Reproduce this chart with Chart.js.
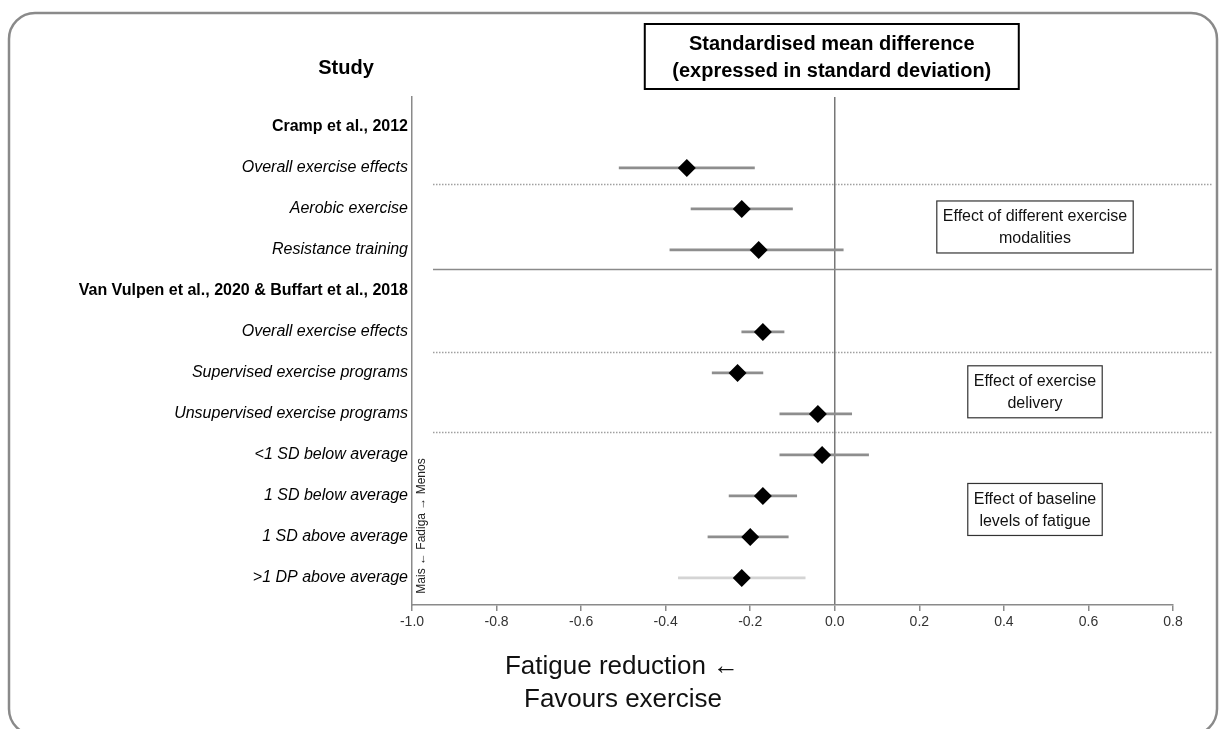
<!DOCTYPE html>
<html>
<head>
<meta charset="utf-8">
<script src="https://cdn.jsdelivr.net/npm/chart.js@4/dist/chart.umd.min.js"></script>
<style>
  body { margin: 0; background: #fff; }
  #wrap { width: 1220px; height: 729px; }
</style>
</head>
<body>
<div id="wrap"><canvas id="forest" width="1220" height="729"></canvas></div>
<script>
// rows top to bottom
let rowLabels = ["Cramp et al., 2012", "Overall exercise effects", "Aerobic exercise", "Resistance training",
	"Van Vulpen et al., 2020 & Buffart et al., 2018", "Overall exercise effects", "Supervised exercise programs",
	"Unsupervised exercise programs", "<1 SD below average", "1 SD below average", "1 SD above average",
	">1 DP above average"];
let headerRows = [true, false, false, false, true, false, false, false, false, false, false, false];
let smd = [null, -0.35, -0.22, -0.18, null, -0.17, -0.23, -0.04, -0.03, -0.17, -0.20, -0.22];
let ciLow = [null, -0.51, -0.34, -0.39, null, -0.22, -0.29, -0.13, -0.13, -0.25, -0.30, -0.37];
let ciHigh = [null, -0.19, -0.10, 0.02, null, -0.12, -0.17, 0.04, 0.08, -0.09, -0.11, -0.07];
let xTicks = [-1.0, -0.8, -0.6, -0.4, -0.2, 0.0, 0.2, 0.4, 0.6, 0.8];

// separators between groups (row units), dotted or solid
let separatorRows = [1.4, 3.47, 5.49, 7.44];
let separatorSolid = [false, true, false, false];

// side notes
let noteLines = [["Effect of different exercise", "modalities"], ["Effect of exercise", "delivery"], ["Effect of baseline", "levels of fatigue"]];
let noteRows = [2.44, 6.46, 9.33];

const FONT = "'Liberation Sans', Arial, Helvetica, sans-serif";

let ciData = [], ciColors = [], pointData = [];
for (let i = 0; i < rowLabels.length; i++) {
	if (smd[i] === null) continue;
	ciData.push({ x: [ciLow[i], ciHigh[i]], y: i });
	ciColors.push(i === rowLabels.length - 1 ? '#d4d4d4' : '#8e8e8e');
	pointData.push({ x: smd[i], y: i });
}

const decorations = {
	id: 'decorations',
	afterDraw(chart) {
		const ctx = chart.ctx;
		const xs = chart.scales.x, ys = chart.scales.y;
		ctx.save();

		// outer rounded frame
		ctx.strokeStyle = '#8a8a8a';
		ctx.lineWidth = 2.5;
		ctx.beginPath();
		ctx.roundRect(9, 13, 1208, 722, 26);
		ctx.stroke();

		// column header
		ctx.fillStyle = '#000';
		ctx.font = 'bold 20px ' + FONT;
		ctx.textAlign = 'center';
		ctx.textBaseline = 'middle';
		ctx.fillText('Study', 346, 68);

		// title box
		const tx = xs.getPixelForValue(0) - 3;
		ctx.lineWidth = 2;
		ctx.strokeStyle = '#000';
		ctx.strokeRect(tx - 187, 24, 374, 65);
		ctx.fillText('Standardised mean difference', tx, 44);
		ctx.fillText('(expressed in standard deviation)', tx, 71);

		// group separators
		ctx.lineWidth = 1.5;
		separatorRows.forEach(function(r, k) {
			const y = Math.round(ys.getPixelForValue(r)) + 0.5;
			ctx.strokeStyle = separatorSolid[k] ? '#8a8a8a' : '#a0a0a0';
			ctx.setLineDash(separatorSolid[k] ? [] : [1.5, 1.5]);
			ctx.beginPath();
			ctx.moveTo(433, y);
			ctx.lineTo(1212, y);
			ctx.stroke();
		});
		ctx.setLineDash([]);

		// side notes
		ctx.font = '16px ' + FONT;
		ctx.lineWidth = 1.2;
		ctx.strokeStyle = '#333';
		noteLines.forEach(function(lines, k) {
			const cy = ys.getPixelForValue(noteRows[k]);
			const cx = 1035;
			const w = Math.max(...lines.map(l => ctx.measureText(l).width)) + 12;
			ctx.fillStyle = '#fff';
			ctx.fillRect(cx - w / 2, cy - 26, w, 52);
			ctx.strokeRect(cx - w / 2, cy - 26, w, 52);
			ctx.fillStyle = '#111';
			ctx.fillText(lines[0], cx, cy - 10);
			ctx.fillText(lines[1], cx, cy + 12);
		});

		// rotated note along the y axis
		ctx.save();
		ctx.translate(422, 526);
		ctx.rotate(-Math.PI / 2);
		ctx.font = '12px ' + FONT;
		ctx.fillStyle = '#222';
		ctx.fillText('Mais \u2190 Fadiga \u2192 Menos', 0, 0);
		ctx.restore();

		// x axis title
		ctx.font = '26px ' + FONT;
		ctx.fillStyle = '#111';
		ctx.fillText('Fatigue reduction \u2190', 622, 667);
		ctx.fillText('Favours exercise', 623, 700);

		ctx.restore();
	}
};

new Chart('forest', {
	type: 'bar',
	data: {
		datasets: [{
			type: 'scatter',
			data: pointData,
			pointStyle: 'rectRot',
			pointRadius: 9,
			backgroundColor: '#000',
			borderWidth: 0,
			order: 0
		}, {
			type: 'bar',
			indexAxis: 'y',
			data: ciData,
			backgroundColor: ciColors,
			barThickness: 2,
			borderWidth: 0,
			order: 1
		}]
	},
	options: {
		responsive: false,
		animation: false,
		layout: { padding: { left: 0, right: 47, top: 97, bottom: 0 } },
		plugins: { legend: { display: false }, tooltip: { enabled: false } },
		scales: {
			x: {
				type: 'linear',
				min: -1.0,
				max: 0.8,
				offset: false,
				afterBuildTicks: function(axis) { axis.ticks = xTicks.map(v => ({ value: v })); },
				afterFit: function(axis) { axis.height = 124; },
				border: { display: true, color: '#8a8a8a', width: 1.5 },
				grid: {
					offset: false,
					drawOnChartArea: true,
					color: ctx => (ctx.tick && Math.abs(ctx.tick.value) < 1e-9) ? '#777' : 'rgba(0,0,0,0)',
					lineWidth: 1.5,
					tickColor: '#8a8a8a',
					tickLength: 6
				},
				ticks: {
					padding: 3,
					color: '#333',
					font: { family: FONT, size: 14 },
					callback: v => Math.abs(v) < 1e-9 ? '0.0' : Number(v).toFixed(1)
				}
			},
			y: {
				type: 'linear',
				reverse: true,
				min: -0.73,
				max: 11.66,
				offset: false,
				afterBuildTicks: function(axis) { axis.ticks = rowLabels.map((l, i) => ({ value: i })); },
				afterFit: function(axis) { axis.width = 412; },
				border: { display: true, color: '#8a8a8a', width: 1.5 },
				grid: { display: false, drawTicks: false, offset: false },
				ticks: {
					padding: 4,
					color: '#000',
					font: ctx => ({
						family: FONT,
						size: 16,
						weight: headerRows[ctx.index] ? 'bold' : 'normal',
						style: headerRows[ctx.index] ? 'normal' : 'italic'
					}),
					callback: v => rowLabels[v]
				}
			}
		}
	},
	plugins: [decorations]
});
</script>
</body>
</html>
